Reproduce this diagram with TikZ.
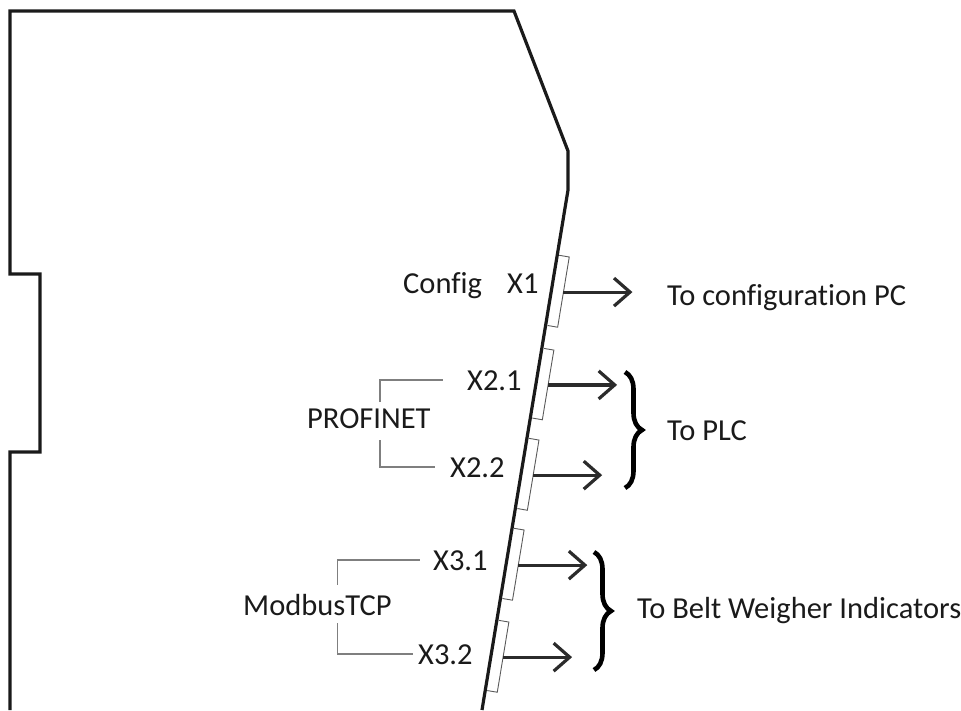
\documentclass[tikz,border=0pt]{standalone}
\usepackage{fontspec}
\setmainfont{Carlito}[Ligatures=NoCommon]
\usepackage{tikz}
\usetikzlibrary{arrows.meta,calc,decorations.pathreplacing}
\definecolor{ink}{HTML}{1A1A1A}
\definecolor{inksoft}{HTML}{2B2B2B}
\definecolor{portgray}{HTML}{5A5A5A}
\definecolor{grpgray}{HTML}{7F7F7F}
\tikzset{
  housing/.style={draw=ink,line width=3.2pt,line join=miter},
  portbox/.style={draw=portgray,line width=0.9pt,fill=white},
  portarr/.style={-{Straight Barb[length=16pt,width=28pt]},line width=3.2pt,color=inksoft},
  grpline/.style={draw=grpgray,line width=1.6pt},
  bracefig/.style={decorate,decoration={brace,amplitude=17pt},line width=4.6pt,color=black},
  lbl/.style={font=\fontsize{30.5}{36}\selectfont,text=ink,anchor=base west,inner sep=3pt},
}

\begin{document}
\begin{tikzpicture}[x=1pt,y=-1pt]
  \useasboundingbox (0,0) rectangle (961,710);
  \coordinate (lt) at (568,190);
  \coordinate (lb) at (482,710);

  % ports along the slanted edge
  \foreach \a/\b/\n in {0.125/0.26/p1,0.304/0.438/p2,0.477/0.612/p3,0.65/0.785/p4,0.827/0.962/p5}{
    \draw[portbox] ($(lt)!\a!(lb)+(2,0.3)$) -- ($(lt)!\a!(lb)+(12,2)$)
      -- ($(lt)!\b!(lb)+(12,2)$) -- ($(lt)!\b!(lb)+(2,0.3)$);
    \coordinate (\n) at ($(lt)!{(\a+\b)/2}!(lb)+(12,2)$);
  }

  % housing outline
  \draw[housing] (10,710) -- (10,452) -- (40,452) -- (40,274) -- (10,274)
    -- (10,11) -- (514,11) -- (568,151) -- (lt) -- (lb);

  \node[lbl] (cfg) at (400,293) {Config};
  \node[lbl] (x1) at (504,293) {X1};
  \node[lbl] (x21) at (464,390) {X2.1};
  \node[lbl] (pf) at (304,428) {PROFINET};
  \node[lbl] (x22) at (447,477) {X2.2};
  \node[lbl] (x31) at (430,570) {X3.1};
  \node[lbl] (mb) at (240,615) {ModbusTCP};
  \node[lbl] (x32) at (415,664) {X3.2};
  \node[lbl] (tpc) at (664,305) {To configuration PC};
  \node[lbl] (tplc) at (664,440) {To PLC};
  \node[lbl] (tbw) at (634,618) {To Belt Weigher Indicators};

  \coordinate (e1) at ($(p1)+(69,0)$);
  \coordinate (e2) at ($(p2)+(69,0)$);
  \coordinate (e3) at ($(p3)+(69,0)$);
  \coordinate (e4) at ($(p4)+(69,0)$);
  \coordinate (e5) at ($(p5)+(69,0)$);
  \draw[portarr] (p1) -- (e1);
  \draw[portarr] (p2) -- (e2);
  \draw[portarr] (p3) -- (e3);
  \draw[portarr] (p4) -- (e4);
  \draw[portarr] (p5) -- (e5);

  % braces
  \coordinate (plct) at (625,372);
  \coordinate (plcb) at (625,488);
  \coordinate (bwt) at (594,552);
  \coordinate (bwb) at (594,670);
  \draw[bracefig] (plct) -- (plcb);
  \draw[bracefig] (bwt) -- (bwb);

  % protocol groups
  \draw[grpline] ([xshift=11pt,yshift=3pt]pf.north) |- ([xshift=-21pt]x21.west);
  \draw[grpline] ([xshift=11pt,yshift=-9pt]pf.south) |- ([xshift=-12pt]x22.west);
  \draw[grpline] ([xshift=20pt,yshift=6pt]mb.north) |- ([xshift=-10pt]x31.west);
  \draw[grpline] ([xshift=20pt,yshift=-5pt]mb.south) |- ([xshift=-2pt]x32.west);
\end{tikzpicture}
\end{document}
